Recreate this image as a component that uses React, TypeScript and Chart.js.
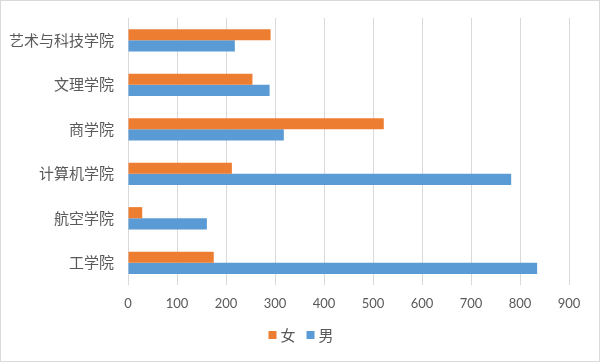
import React, { useEffect, useRef } from "react";
import { Chart, registerables } from "chart.js";

Chart.register(...registerables);

const categories = ["艺术与科技学院", "文理学院", "商学院", "计算机学院", "航空学院", "工学院"];
const femaleValues = [291, 254, 522, 212, 29, 175];
const maleValues = [218, 289, 318, 782, 161, 835];
const seriesNames = ["女", "男"];
const xMin = 0;
const xMax = 900;
const xStep = 100;

const borderPlugin = {
  id: "outerBorder",
  afterDraw(chart: any) {
    const ctx = chart.ctx;
    ctx.save();
    ctx.strokeStyle = "#d9d9d9";
    ctx.lineWidth = 1;
    ctx.strokeRect(0.5, 0.5, chart.width - 1, chart.height - 1);
    ctx.restore();
  },
};

const legendPlugin = {
  id: "customLegend",
  afterDraw(chart: any) {
    const ctx = chart.ctx;
    ctx.save();
    ctx.font = "15px 'Noto Sans CJK SC', sans-serif";
    ctx.textBaseline = "middle";
    ctx.textAlign = "left";
    const box = 8;
    const gap = 4;
    const itemGap = 11;
    const items = chart.data.datasets.map((d: any) => ({
      label: d.label,
      color: d.backgroundColor,
      w: box + gap + ctx.measureText(d.label).width,
    }));
    const total = items.reduce((s: number, it: any) => s + it.w, 0) + itemGap * (items.length - 1);
    let x = chart.width / 2 + 1 - total / 2;
    const y = 335;
    for (const it of items) {
      ctx.fillStyle = it.color;
      ctx.fillRect(x, y - box / 2, box, box);
      ctx.fillStyle = "#595959";
      ctx.fillText(it.label, x + box + gap, y);
      x += it.w + itemGap;
    }
    ctx.restore();
  },
};

export default function App() {
  const ref = useRef<HTMLCanvasElement | null>(null);

  useEffect(() => {
    document.body.style.margin = "0";
    const canvas = ref.current;
    if (!canvas) return;
    const chart = new Chart(canvas, {
      type: "bar",
      data: {
        labels: categories,
        datasets: [
          {
            label: seriesNames[0],
            data: femaleValues,
            backgroundColor: "#ED7D31",
            borderWidth: 0,
            categoryPercentage: 0.5,
            barPercentage: 1,
          },
          {
            label: seriesNames[1],
            data: maleValues,
            backgroundColor: "#5B9BD5",
            borderWidth: 0,
            categoryPercentage: 0.5,
            barPercentage: 1,
          },
        ],
      },
      options: {
        indexAxis: "y",
        animation: false,
        responsive: false,
        maintainAspectRatio: false,
        layout: { padding: { top: 18, right: 31, bottom: 45, left: 0 } },
        scales: {
          x: {
            min: xMin,
            max: xMax,
            ticks: {
              stepSize: xStep,
              color: "#595959",
              font: { family: "Lato, 'Noto Sans', sans-serif", size: 13 },
              padding: 11,
            },
            grid: { color: "#d9d9d9", lineWidth: 1, drawTicks: false },
            border: { display: false },
            afterFit(scale: any) {
              scale.height = 32;
            },
          },
          y: {
            ticks: {
              color: "#595959",
              font: { family: "'Noto Sans CJK SC', sans-serif", size: 15 },
              padding: 14,
            },
            grid: { display: false, drawTicks: false },
            border: { display: false },
            afterFit(scale: any) {
              scale.width = 128;
              scale.paddingTop = 0;
              scale.paddingBottom = 0;
            },
          },
        },
        plugins: {
          legend: { display: false },
          tooltip: { enabled: false },
        },
      },
      plugins: [borderPlugin, legendPlugin],
    });
    return () => chart.destroy();
  }, []);

  return (
    <div style={{ width: 600, height: 362 }}>
      <canvas ref={ref} width={600} height={362} style={{ display: "block" }} />
    </div>
  );
}
